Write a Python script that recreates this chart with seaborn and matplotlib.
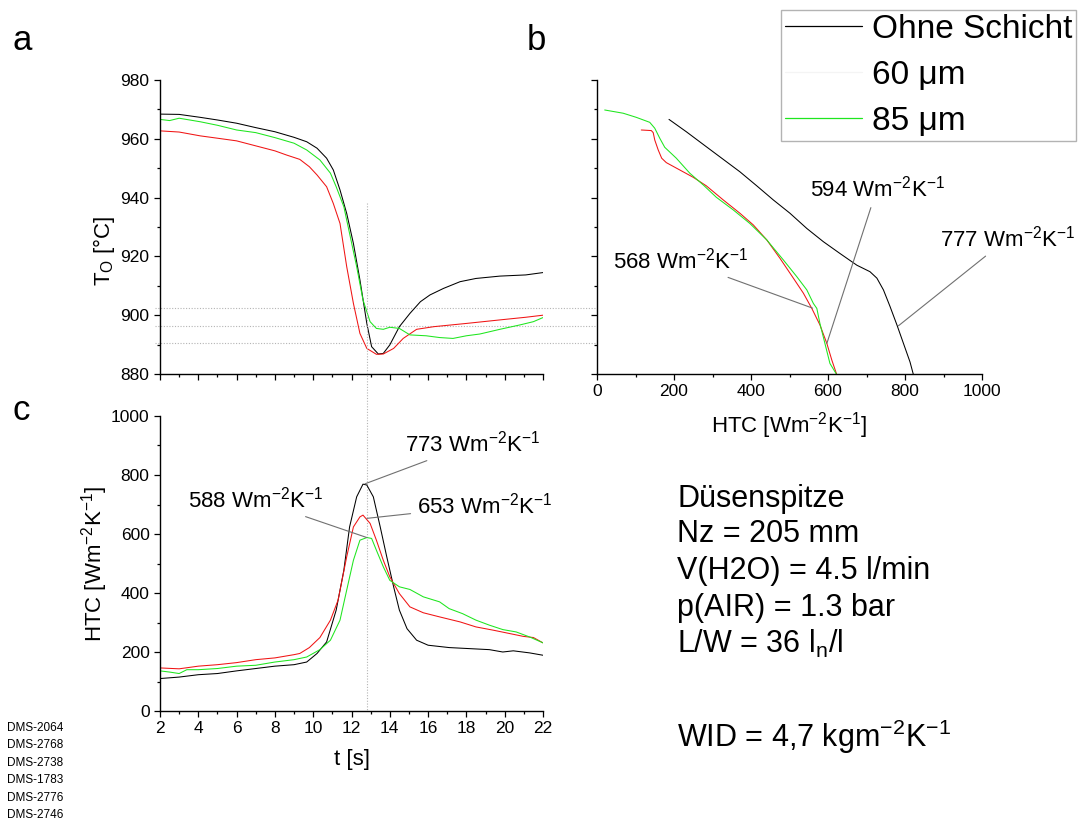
import matplotlib
matplotlib.use("Agg")
import matplotlib.pyplot as plt
import matplotlib.transforms as mtransforms
from matplotlib.lines import Line2D
from matplotlib.ticker import MultipleLocator
import numpy as np
import pandas as pd
import seaborn as sns

# ---- panel a: surface temperature over time ----
t_black_a = [2, 3, 4.1, 5, 6, 7, 8, 9, 9.66, 10.2, 10.7, 11.05, 11.4, 11.75, 12.1, 12.44, 12.8, 13.05,
             13.4, 13.66, 14, 14.5, 15.05, 15.6, 16.1, 16.8, 17.67, 18.5, 19.75, 21.1, 22]
T_black_a = [968.4, 968.3, 967.3, 966.4, 965.3, 963.8, 962.4, 960.5, 959.0, 956.8, 953.4, 949.4, 942.6, 934.6,
             924.4, 912.0, 897.2, 889.3, 886.8, 887.0, 889.9, 896.1, 900.6, 904.6, 906.9, 909.1, 911.4, 912.5,
             913.3, 913.7, 914.5]
t_red_a = [2, 3, 4.1, 5, 6, 7, 8, 8.6, 9.3, 9.8, 10.2, 10.7, 11.05, 11.4, 11.75, 12.1, 12.44, 12.8, 13.3,
           13.66, 14.2, 14.7, 15.4, 16.3, 18, 19.75, 21.1, 22]
T_red_a = [962.7, 962.3, 961.0, 960.2, 959.3, 957.6, 955.9, 954.5, 953.0, 950.5, 947.7, 943.7, 938.0, 931.2,
           916.5, 904.0, 893.8, 888.7, 886.7, 886.8, 888.7, 892.1, 895.2, 896.1, 897.2, 898.4, 899.3, 900.0]
t_green_a = [2, 2.5, 3, 4.1, 5, 6, 7, 8, 9, 9.66, 10.35, 10.9, 11.2, 11.6, 11.9, 12.27, 12.6, 12.97, 13.3,
             13.66, 14, 14.5, 15.05, 15.9, 16.6, 17.3, 18, 18.7, 19.75, 20.8, 21.5, 22]
T_green_a = [966.6, 966.2, 967.0, 965.8, 964.6, 963.0, 962.1, 960.4, 958.5, 956.2, 952.8, 948.3, 943.7, 936.9,
             927.8, 916.5, 905.2, 897.8, 895.5, 895.2, 895.9, 895.5, 893.3, 893.0, 892.4, 892.1, 893.0, 893.6,
             895.2, 896.7, 897.8, 899.2]

# ---- panel b: temperature vs HTC ----
htc_black_b = [187, 232, 284, 328, 371, 415, 458, 501, 545, 588, 631, 675, 709, 727, 744, 761, 779, 796, 813, 822]
T_black_b = [966.6, 962.4, 957.3, 953.0, 948.8, 944.0, 939.2, 934.7, 929.5, 925.0, 921.0, 917.0, 914.8, 912.6,
             908.6, 903.0, 896.7, 890.4, 884.1, 879.7]
htc_red_b = [115, 141, 146, 150, 159, 168, 180, 215, 250, 284, 328, 371, 406, 441, 475, 510, 536, 558, 579,
             597, 610, 623]
T_red_b = [963.0, 962.8, 962.1, 959.6, 956.2, 953.4, 951.9, 949.4, 946.9, 944.0, 939.2, 934.7, 930.7, 925.6,
           919.4, 912.6, 907.5, 902.3, 896.7, 890.4, 884.7, 879.7]
htc_green_b = [20, 68, 102, 137, 150, 163, 176, 206, 241, 276, 310, 354, 397, 441, 484, 519, 545, 562, 571,
               579, 592, 605, 623]
T_green_b = [969.8, 968.7, 967.3, 965.6, 963.6, 960.2, 957.1, 953.4, 948.3, 944.3, 940.1, 935.8, 931.2, 925.6,
             918.8, 913.1, 908.6, 904.0, 902.3, 897.2, 890.4, 883.6, 879.7]

# ---- panel c: HTC over time ----
t_black_c = [2, 3, 4, 5, 6, 7, 8, 9, 9.66, 10.2, 10.7, 11.2, 11.6, 11.9, 12.27, 12.6, 12.8, 13.14, 13.5,
             13.84, 14.2, 14.5, 14.9, 15.4, 16, 17.1, 18, 19.2, 19.9, 20.45, 21.3, 22]
h_black_c = [110, 115, 123, 127, 136, 144, 152, 157, 166, 195, 234, 342, 477, 624, 726, 769, 766, 726, 624,
             523, 421, 342, 279, 240, 223, 215, 212, 208, 200, 204, 197, 189]
t_red_c = [2, 3, 4, 5, 6, 7, 8, 9, 9.3, 9.8, 10.35, 10.9, 11.3, 11.75, 12.1, 12.44, 12.6, 12.97, 13.3, 13.66,
           14, 14.5, 15.05, 15.75, 16.6, 17.67, 18.5, 19.4, 20.3, 20.97, 21.5, 22]
h_red_c = [146, 143, 152, 157, 164, 174, 180, 191, 195, 215, 249, 308, 376, 523, 624, 658, 664, 636, 579, 511,
           455, 398, 353, 333, 319, 302, 285, 274, 262, 253, 249, 231]
t_green_c = [2, 2.5, 3, 3.4, 4, 5, 6, 7, 8, 9, 9.66, 10.35, 10.9, 11.4, 11.75, 12.1, 12.44, 12.8, 13.05, 13.3,
             13.66, 14, 14.5, 15.05, 15.75, 16.6, 17.1, 17.8, 18.5, 19.2, 19.9, 20.6, 21.3, 22]
h_green_c = [136, 132, 127, 140, 140, 144, 152, 155, 166, 174, 183, 208, 240, 308, 410, 511, 579, 588, 585, 545,
             489, 443, 421, 412, 387, 370, 347, 330, 308, 291, 276, 268, 251, 231]

series_labels = ["Ohne Schicht", "60 \u03bcm", "85 \u03bcm"]
series_colors = ["black", "#f01414", "#1ee61e"]

# reference levels
t_mark = 12.8
T_levels = [902.4, 896.4, 890.4]

info_lines = ["D\u00fcsenspitze", "Nz = 205 mm", "V(H2O) = 4.5 l/min", "p(AIR) = 1.3 bar",
              "L/W = 36 l$_\\mathregular{n}$/l", "WID = 4,7 kgm$^{-2}$K$^{-1}$"]
sample_ids = ["DMS-2064", "DMS-2768", "DMS-2738", "DMS-1783", "DMS-2776", "DMS-2746"]

sns.set_theme(style="ticks")
plt.rcParams["font.family"] = ["Liberation Sans", "DejaVu Sans"]
plt.rcParams["mathtext.default"] = "regular"
plt.rcParams["text.color"] = "black"
plt.rcParams["axes.labelcolor"] = "black"
plt.rcParams["axes.linewidth"] = 1.0
plt.rcParams["axes.edgecolor"] = "black"
for ax_name in ["xtick", "ytick"]:
    plt.rcParams[f"{ax_name}.major.size"] = 4.5
    plt.rcParams[f"{ax_name}.minor.size"] = 2.5
    plt.rcParams[f"{ax_name}.major.width"] = 0.9
    plt.rcParams[f"{ax_name}.minor.width"] = 0.9
    plt.rcParams[f"{ax_name}.major.pad"] = 3
    plt.rcParams[f"{ax_name}.color"] = "black"
    plt.rcParams[f"{ax_name}.labelcolor"] = "black"
    plt.rcParams[f"{ax_name}.labelsize"] = 12.5

W, H = 1079, 821
fig = plt.figure(figsize=(W / 100, H / 100), dpi=100)


def px_box(l, t, r, b):
    return [l / W, 1 - b / H, (r - l) / W, (b - t) / H]


ax_a = fig.add_axes(px_box(160, 80, 543, 374))
ax_b = fig.add_axes(px_box(597, 80, 982, 374))
ax_c = fig.add_axes(px_box(160, 416, 543, 711))

lw = 0.75
for x, y, c in [(t_black_a, T_black_a, series_colors[0]), (t_red_a, T_red_a, series_colors[1]),
                (t_green_a, T_green_a, series_colors[2])]:
    sns.lineplot(x=x, y=y, ax=ax_a, color=c, lw=lw, estimator=None, sort=False)
for x, y, c in [(htc_black_b, T_black_b, series_colors[0]), (htc_red_b, T_red_b, series_colors[1]),
                (htc_green_b, T_green_b, series_colors[2])]:
    sns.lineplot(x=x, y=y, ax=ax_b, color=c, lw=lw, estimator=None, sort=False)
for x, y, c in [(t_black_c, h_black_c, series_colors[0]), (t_red_c, h_red_c, series_colors[1]),
                (t_green_c, h_green_c, series_colors[2])]:
    sns.lineplot(x=x, y=y, ax=ax_c, color=c, lw=lw, estimator=None, sort=False)

for ax in [ax_a, ax_b, ax_c]:
    sns.despine(ax=ax)
    ax.set_xlabel("")
    ax.set_ylabel("")

ax_a.set_xlim(2, 22)
ax_a.set_ylim(880, 980)
ax_a.xaxis.set_major_locator(MultipleLocator(2))
ax_a.xaxis.set_minor_locator(MultipleLocator(1))
ax_a.yaxis.set_major_locator(MultipleLocator(20))
ax_a.yaxis.set_minor_locator(MultipleLocator(10))
ax_a.tick_params(axis="x", labelbottom=False)
ax_a.set_ylabel("T$_O$ [\u00b0C]", fontsize=16)
ax_a.yaxis.set_label_coords(-0.112, 0.42)

ax_b.set_xlim(0, 1000)
ax_b.set_ylim(880, 980)
ax_b.xaxis.set_major_locator(MultipleLocator(200))
ax_b.xaxis.set_minor_locator(MultipleLocator(100))
ax_b.yaxis.set_major_locator(MultipleLocator(20))
ax_b.yaxis.set_minor_locator(MultipleLocator(10))
ax_b.tick_params(axis="y", labelleft=False)
ax_b.set_xlabel("HTC [Wm$^{-2}$K$^{-1}$]", fontsize=16, labelpad=8)

ax_c.set_xlim(2, 22)
ax_c.set_ylim(0, 1000)
ax_c.xaxis.set_major_locator(MultipleLocator(2))
ax_c.xaxis.set_minor_locator(MultipleLocator(1))
ax_c.yaxis.set_major_locator(MultipleLocator(200))
ax_c.yaxis.set_minor_locator(MultipleLocator(100))
ax_c.set_xlabel("t [s]", fontsize=16, labelpad=9)
ax_c.set_ylabel("HTC [Wm$^{-2}$K$^{-1}$]", fontsize=16)
ax_c.yaxis.set_label_coords(-0.13, 0.5)

# dotted reference lines
ref_kw = dict(color="#b4b4b4", lw=0.8, ls=(0, (1, 1.5)), clip_on=False, zorder=0)
tr_h = mtransforms.blended_transform_factory(fig.transFigure, ax_a.transData)
for lev in T_levels:
    ax_a.plot([155 / W, 913 / W], [lev, lev], transform=tr_h, **ref_kw)
tr_v = mtransforms.blended_transform_factory(ax_c.transData, fig.transFigure)
ax_c.plot([t_mark, t_mark], [1 - 203 / H, 1 - 711 / H], transform=tr_v, **ref_kw)

# annotations
ann_kw = dict(fontsize=16, ha="left", va="baseline",
              arrowprops=dict(arrowstyle="-", color="#707070", lw=0.8, shrinkA=2, shrinkB=0))
unit = " Wm$^{-2}$K$^{-1}$"
ax_c.annotate("773" + unit, xy=(12.7, 770), xytext=(14.8, 880), **ann_kw)
ax_c.annotate("653" + unit, xy=(12.8, 653), xytext=(15.4, 669), **ann_kw)
ax_c.annotate("588" + unit, xy=(12.8, 588), xytext=(3.45, 690), **ann_kw)
ax_b.annotate("594" + unit, xy=(597, 890.4), xytext=(552, 940.3), **ann_kw)
ax_b.annotate("568" + unit, xy=(560, 902.4), xytext=(42, 916.0), **ann_kw)
ax_b.annotate("777" + unit, xy=(783, 896.4), xytext=(892, 923.5), **ann_kw)

# panel letters
fig.text(12 / W, 1 - 50 / H, "a", fontsize=25, va="baseline")
fig.text(527 / W, 1 - 50 / H, "b", fontsize=25, va="baseline")
fig.text(12 / W, 1 - 420 / H, "c", fontsize=25, va="baseline")

# info block
info_y = [507, 542, 579, 616, 653, 747]
for s, y in zip(info_lines, info_y):
    fig.text(677 / W, 1 - y / H, s, fontsize=22, va="baseline")

for i, s in enumerate(sample_ids):
    fig.text(7 / W, 1 - (731 + 17.4 * i) / H, s, fontsize=8.5, va="baseline")

# legend
handles = [Line2D([], [], color="black", lw=0.9),
           Line2D([], [], color="#f4f4f4", lw=0.9),
           Line2D([], [], color=series_colors[2], lw=0.9)]
leg = fig.legend(handles, series_labels, loc="upper right", bbox_to_anchor=(1076 / W, 1 - 10 / H),
                 fontsize=24, frameon=True, fancybox=False, borderpad=0.12, handlelength=2.3,
                 handletextpad=0.3, labelspacing=0.45, borderaxespad=0)
leg.get_frame().set_edgecolor("#a0a0a0")
leg.get_frame().set_linewidth(1.0)

fig.savefig("out.png", dpi=100)
plt.close(fig)
